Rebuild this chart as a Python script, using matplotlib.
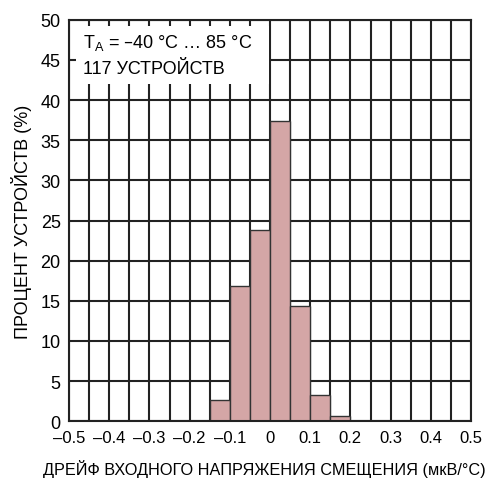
import matplotlib.pyplot as plt
from matplotlib.patches import Rectangle

plt.rcParams['font.family'] = ['Liberation Sans', 'DejaVu Sans']

# histogram bins (left edges, uV/C) and percent of units
bin_left = [-0.15, -0.10, -0.05, 0.00, 0.05, 0.10, 0.15]
percent = [2.6, 16.9, 23.8, 37.4, 14.3, 3.3, 0.6]
bin_width = 0.05

x_ticks = [-0.5, -0.4, -0.3, -0.2, -0.1, 0, 0.1, 0.2, 0.3, 0.4, 0.5]
x_labels = ['–0.5', '–0.4', '–0.3', '–0.2', '–0.1', '0', '0.1', '0.2', '0.3', '0.4', '0.5']
y_ticks = list(range(0, 51, 5))

fig = plt.figure(figsize=(5, 4.81), dpi=100)
ax = fig.add_axes([0.138, 0.122, 0.804, 0.835])

grid_c = '#222222'
for i in range(21):
    ax.axvline(-0.5 + i * 0.05, color=grid_c, lw=1.5, zorder=1)
for y in y_ticks:
    ax.axhline(y, color=grid_c, lw=1.5, zorder=1)

ax.bar(bin_left, percent, width=bin_width, align='edge',
       color='#d4a6a6', edgecolor='#333333', linewidth=1.0, zorder=2)

# white label box covering the grid
ax.add_patch(Rectangle((-0.483, 42.0), 0.481, 7.2, facecolor='white',
                       edgecolor='none', zorder=3))
ax.text(-0.465, 47.2, 'T$_\\mathregular{A}$ = –40 °C … 85 °C', fontsize=13,
        va='center', ha='left', zorder=4)
ax.text(-0.465, 43.9, '117 УСТРОЙСТВ', fontsize=13, va='center', ha='left', zorder=4)

ax.set_xlim(-0.5, 0.5)
ax.set_ylim(0, 50)
ax.set_xticks(x_ticks)
ax.set_xticklabels(x_labels)
ax.set_yticks(y_ticks)
ax.tick_params(length=0, pad=6)
ax.tick_params(axis='x', labelsize=12)
ax.tick_params(axis='y', labelsize=13)
for s in ax.spines.values():
    s.set_linewidth(1.5)
    s.set_color(grid_c)
    s.set_zorder(5)

ax.set_xlabel('ДРЕЙФ ВХОДНОГО НАПРЯЖЕНИЯ СМЕЩЕНИЯ (мкВ/°C)', fontsize=11.7)
ax.xaxis.set_label_coords(0.487, -0.095)
ax.set_ylabel('ПРОЦЕНТ УСТРОЙСТВ (%)', fontsize=13, labelpad=6)

fig.savefig('out.png', dpi=100)
